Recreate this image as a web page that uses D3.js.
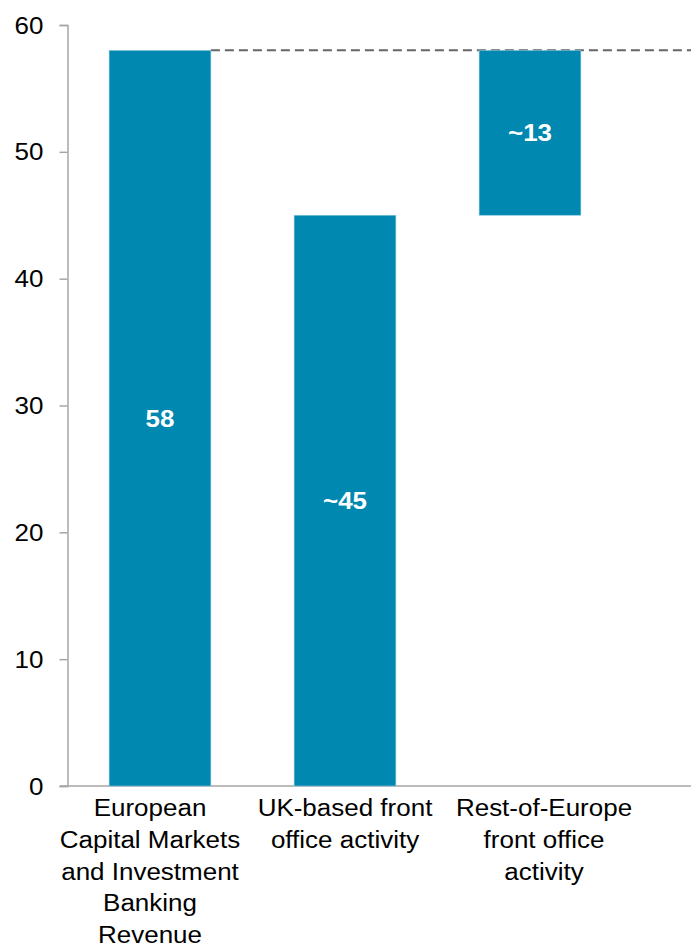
<!DOCTYPE html>
<html>
<head>
<meta charset="utf-8">
<script src="https://cdn.jsdelivr.net/npm/d3@7"></script>
<style>
  body { margin: 0; background: #fff; }
  svg { display: block; }
  text { font-family: "Liberation Sans", Arial, sans-serif; }
</style>
</head>
<body>
<div id="chart"></div>
<script>
// chart data
const categories = [
  ['European', 'Capital Markets', 'and Investment', 'Banking', 'Revenue'],
  ['UK-based front', 'office activity'],
  ['Rest-of-Europe', 'front office', 'activity']
];
const barStart = [0, 0, 45];
const barEnd = [58, 45, 58];
const barLabels = ['58', '~45', '~13'];
const yTicks = [0, 10, 20, 30, 40, 50, 60];
const totalLine = 58;

const width = 691;
const height = 945;
const stretch = 1.13; // text in the source is a bit wide
const labelShift = [-10, 0, 14]; // category labels are not quite centred under bars

const svg = d3.select('#chart')
  .append('svg')
  .attr('width', width)
  .attr('height', height);

const x = d3.scaleBand()
  .domain(d3.range(categories.length))
  .range([67.5, 622.5])
  .paddingInner(0.45)
  .paddingOuter(0.225);

const y = d3.scaleLinear()
  .domain([0, 60])
  .range([786, 25]);

// y axis
const yAxis = svg.append('g')
  .attr('transform', 'translate(67.5,0)')
  .call(d3.axisLeft(y).tickValues(yTicks).tickSize(8).tickSizeOuter(8));

yAxis.select('.domain').attr('stroke', '#a6a6a6').attr('stroke-width', 1.5);
yAxis.selectAll('.tick line').attr('stroke', '#a6a6a6').attr('stroke-width', 1.5);
yAxis.selectAll('.tick text')
  .attr('x', 0)
  .attr('dy', '0.35em')
  .attr('text-anchor', 'end')
  .attr('transform', `translate(-24,0) scale(${stretch},1)`)
  .attr('font-size', 23)
  .attr('fill', '#000')
  .attr('font-family', '"Liberation Sans", Arial, sans-serif');

// baseline
svg.append('line')
  .attr('x1', 60)
  .attr('x2', width)
  .attr('y1', y(0))
  .attr('y2', y(0))
  .attr('stroke', '#a6a6a6')
  .attr('stroke-width', 1.5);

// dashed total line
svg.append('line')
  .attr('x1', x(0) + x.bandwidth())
  .attr('x2', width)
  .attr('y1', y(totalLine))
  .attr('y2', y(totalLine))
  .attr('stroke', '#666')
  .attr('stroke-width', 2)
  .attr('stroke-dasharray', '9,5');

// bars
const bars = svg.selectAll('.bar')
  .data(categories.map((c, i) => i))
  .enter().append('g')
  .attr('class', 'bar');

bars.append('rect')
  .attr('x', i => x(i))
  .attr('width', x.bandwidth())
  .attr('y', i => y(barEnd[i]))
  .attr('height', i => y(barStart[i]) - y(barEnd[i]))
  .attr('fill', '#0088b1')
  .attr('stroke', '#8cc8dc')
  .attr('stroke-width', 0.6);

bars.append('text')
  .attr('transform', i => {
    const cx = x(i) + x.bandwidth() / 2;
    const cy = (y(barStart[i]) + y(barEnd[i])) / 2;
    return `translate(${cx},${cy}) scale(1.08,1)`;
  })
  .attr('text-anchor', 'middle')
  .attr('dy', '0.35em')
  .attr('font-size', 24)
  .attr('font-weight', 'bold')
  .attr('fill', '#fff')
  .text(i => barLabels[i]);

// category labels
const catLabels = svg.selectAll('.cat')
  .data(categories)
  .enter().append('g')
  .attr('class', 'cat')
  .attr('transform', (d, i) =>
    `translate(${x(i) + x.bandwidth() / 2 + labelShift[i]},816) scale(${stretch},1)`);

catLabels.selectAll('text')
  .data(d => d)
  .enter().append('text')
  .attr('y', (d, j) => j * 31.8)
  .attr('text-anchor', 'middle')
  .attr('font-size', 23)
  .attr('fill', '#000')
  .text(d => d);
</script>
</body>
</html>
